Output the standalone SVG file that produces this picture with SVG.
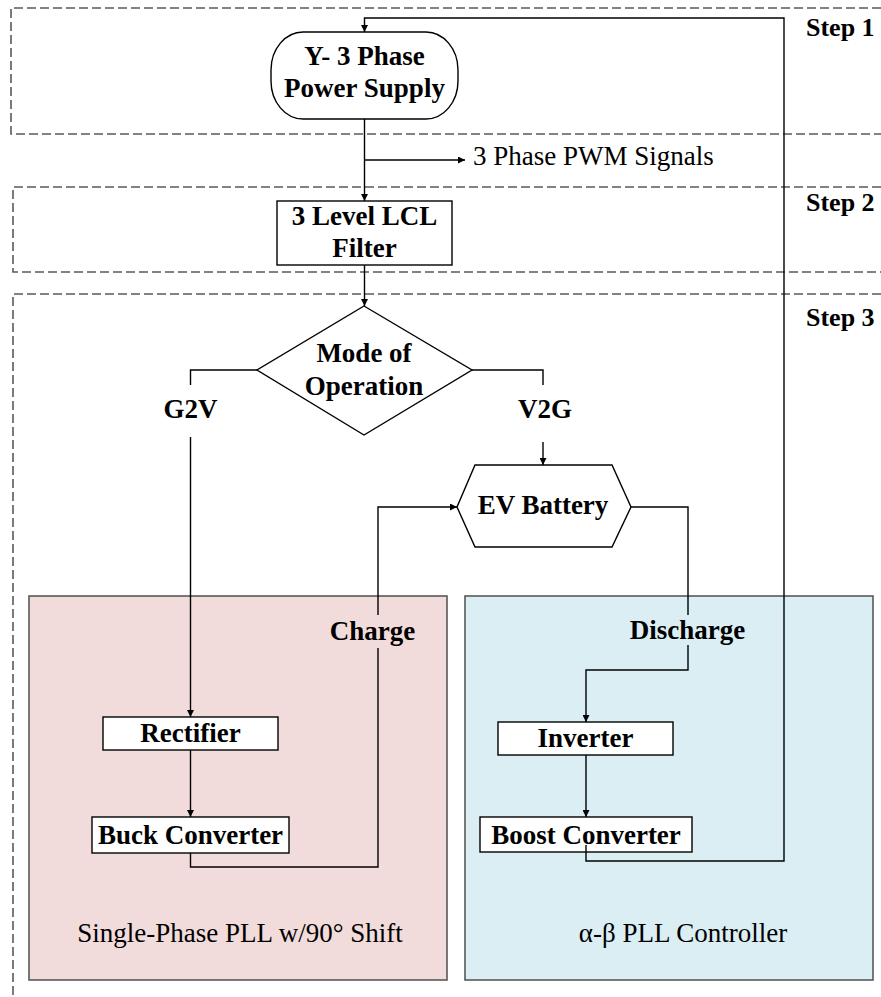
<svg xmlns="http://www.w3.org/2000/svg" width="881" height="997" viewBox="0 0 881 997">
  <style>
    .zone { fill: none; stroke: #5a5a5a; stroke-width: 1.6; stroke-dasharray: 9 4; }
    .panel { stroke: #595959; stroke-width: 1.6; }
    .node { fill: #ffffff; stroke: #000000; stroke-width: 1.4; }
    .lbl { font-family: "Liberation Serif", "Times New Roman", serif; font-size: 27px; font-weight: bold; fill: #000; text-anchor: middle; }
    .plain { font-family: "Liberation Serif", "Times New Roman", serif; font-size: 27px; fill: #000; }
    .step { font-family: "Liberation Serif", "Times New Roman", serif; font-size: 26px; font-weight: bold; fill: #000; }
    .wire { fill: none; stroke: #000; stroke-width: 1.4; }
  </style>
  <defs>
    <marker id="arrow" viewBox="0 0 10 10" refX="10" refY="5" markerWidth="7" markerHeight="7" markerUnits="userSpaceOnUse" orient="auto">
      <path d="M0,0 L10,5 L0,10 Z" fill="#000"/>
    </marker>
  </defs>
  <rect width="881" height="997" fill="#ffffff"/>

  <!-- stage outlines -->
  <g id="stages">
    <path class="zone" d="M881 8 H11 V134 H881"/>
    <path class="zone" d="M881 187 H13 V272 H881"/>
    <path class="zone" d="M881 294 H13 V997"/>
    <text class="step" x="806" y="36">Step 1</text>
    <text class="step" x="806" y="211">Step 2</text>
    <text class="step" x="806" y="326">Step 3</text>
  </g>

  <!-- control panels -->
  <g id="panel-g2v">
    <rect class="panel" x="29" y="596" width="418" height="384" fill="#f2dcdb"/>
    <text class="plain" x="240" y="942" text-anchor="middle">Single-Phase PLL w/90° Shift</text>
  </g>
  <g id="panel-v2g">
    <rect class="panel" x="465" y="596" width="408" height="384" fill="#daeef3"/>
    <text class="plain" x="683" y="942" text-anchor="middle">α-β PLL Controller</text>
  </g>

  <!-- connectors -->
  <g id="connectors">
    <!-- supply to filter -->
    <path class="wire" d="M364.5 119 V201" marker-end="url(#arrow)"/>
    <path class="wire" d="M364.5 160 H465" marker-end="url(#arrow)"/>
    <!-- filter to mode decision -->
    <path class="wire" d="M364.5 265 V306" marker-end="url(#arrow)"/>
    <!-- G2V branch -->
    <path class="wire" d="M257 370 H190.5 V385"/>
    <path class="wire" d="M190.5 437 V717" marker-end="url(#arrow)"/>
    <path class="wire" d="M190.5 750 V817" marker-end="url(#arrow)"/>
    <!-- V2G branch -->
    <path class="wire" d="M472 370 H543 V385"/>
    <path class="wire" d="M543 442 V465" marker-end="url(#arrow)"/>
    <!-- charge path -->
    <path class="wire" d="M190.5 853 V867 H378 V648"/>
    <path class="wire" d="M378 615 V507 H457" marker-end="url(#arrow)"/>
    <!-- discharge path -->
    <path class="wire" d="M631 507 H688 V615"/>
    <path class="wire" d="M688 645 V670 H586 V722" marker-end="url(#arrow)"/>
    <path class="wire" d="M586 755 V817" marker-end="url(#arrow)"/>
    <!-- feedback to supply -->
    <path class="wire" d="M586 845 V861 H784 V18 H364.5 V32" marker-end="url(#arrow)"/>
    <text class="plain" x="473" y="165">3 Phase PWM Signals</text>
    <text class="lbl" x="190.5" y="418">G2V</text>
    <text class="lbl" x="545" y="418">V2G</text>
    <text class="lbl" x="372.5" y="640">Charge</text>
    <text class="lbl" x="687.5" y="639">Discharge</text>
  </g>

  <g id="power-supply">
    <rect class="node" x="271" y="32" width="187" height="87" rx="32" ry="38"/>
    <text class="lbl" x="364.5" y="65">Y- 3 Phase</text>
    <text class="lbl" x="364.5" y="97">Power Supply</text>
  </g>
  <g id="lcl-filter">
    <rect class="node" x="277" y="201" width="175" height="64"/>
    <text class="lbl" x="364.5" y="225">3 Level LCL</text>
    <text class="lbl" x="364.5" y="257">Filter</text>
  </g>
  <g id="mode">
    <path class="node" d="M364 306 L472 370 L364 435 L257 370 Z"/>
    <text class="lbl" x="364" y="362">Mode of</text>
    <text class="lbl" x="364" y="395">Operation</text>
  </g>
  <g id="ev-battery">
    <path class="node" d="M475 465 H612 L631 507 L612 547 H475 L457 507 Z"/>
    <text class="lbl" x="543" y="514">EV Battery</text>
  </g>
  <g id="rectifier">
    <rect class="node" x="103" y="717" width="175" height="33"/>
    <text class="lbl" x="190.5" y="742">Rectifier</text>
  </g>
  <g id="buck">
    <rect class="node" x="92" y="817" width="197" height="36"/>
    <text class="lbl" x="190.5" y="844">Buck Converter</text>
  </g>
  <g id="inverter">
    <rect class="node" x="498" y="722" width="175" height="33"/>
    <text class="lbl" x="585.5" y="747">Inverter</text>
  </g>
  <g id="boost">
    <rect class="node" x="480" y="817" width="212" height="35"/>
    <text class="lbl" x="586" y="844">Boost Converter</text>
  </g>
  <!-- return line leaves from inside the boost block -->
  <path class="wire" d="M586 845 V852"/>
</svg>
